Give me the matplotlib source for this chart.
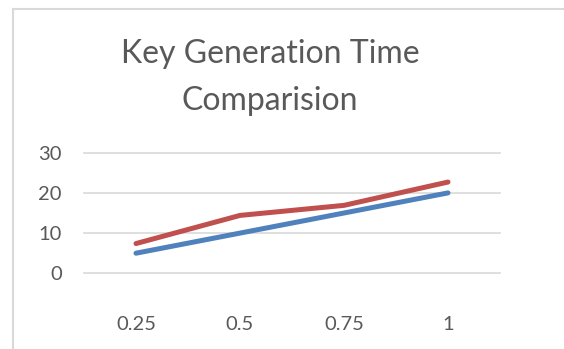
import matplotlib
matplotlib.use("Agg")
import matplotlib.pyplot as plt
from matplotlib.lines import Line2D

categories = ["0.25", "0.5", "0.75", "1"]
series_blue = [5.0, 10.0, 15.0, 20.0]
series_red = [7.4, 14.4, 16.9, 22.7]
y_ticks = [0, 10, 20, 30]

plt.rcParams['font.family'] = ['Lato', 'DejaVu Sans']

W, H = 564, 349
fig = plt.figure(figsize=(W / 100, H / 100), dpi=100)
fig.patch.set_facecolor("white")

# chart frame (left and top edges visible)
fig.add_artist(Line2D([13 / W, 13 / W], [0, 1 - 9 / H], color="#d9d9d9", lw=1.5, transform=fig.transFigure))
fig.add_artist(Line2D([13 / W, 1], [1 - 9 / H, 1 - 9 / H], color="#d9d9d9", lw=1.5, transform=fig.transFigure))

left, right = 84 / W, 500 / W
bottom, top = 1 - 273.3 / H, 1 - 152.7 / H
ax = fig.add_axes([left, bottom, right - left, top - bottom])
x = list(range(len(categories)))
ax.plot(x, series_blue, color="#4F81BD", lw=3.6, solid_capstyle="round", solid_joinstyle="round", zorder=3, clip_on=False)
ax.plot(x, series_red, color="#C0504D", lw=3.6, solid_capstyle="round", solid_joinstyle="round", zorder=4, clip_on=False)

ax.set_xlim(-0.5, len(categories) - 0.5)
ax.set_ylim(0, 30)
ax.set_yticks(y_ticks)
ax.set_xticks(x)
ax.set_xticklabels(categories)
for s in ax.spines.values():
    s.set_visible(False)
ax.yaxis.grid(True, color="#d9d9d9", lw=1.2, clip_on=False)
ax.set_axisbelow(True)
ax.tick_params(axis="both", length=0, labelsize=14.5, labelcolor="#595959")
ax.tick_params(axis="y", pad=16)
ax.tick_params(axis="x", pad=31)

fig.text(270 / W, 1 - 63 / H, "Key Generation Time", ha="center", va="baseline", fontsize=23, color="#595959")
fig.text(270 / W, 1 - 110 / H, "Comparision", ha="center", va="baseline", fontsize=23, color="#595959")

fig.savefig("out.png", dpi=100, facecolor="white")
